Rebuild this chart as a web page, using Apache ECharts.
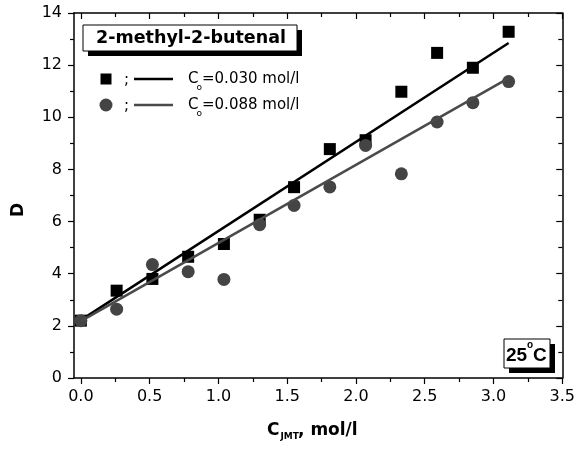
<!DOCTYPE html>
<html>
<head>
<meta charset="utf-8">
<script src="https://cdn.jsdelivr.net/npm/echarts@6/dist/echarts.min.js"></script>
<style>html,body{margin:0;padding:0;background:#fff}#c{width:578px;height:452px}</style>
</head>
<body>
<div id="c"></div>
<script>
// ---- data ----
const concX = [0, 0.26, 0.52, 0.78, 1.04, 1.30, 1.55, 1.81, 2.07, 2.33, 2.59, 2.85, 3.11];
const dLow  = [2.2, 3.35, 3.8, 4.65, 5.14, 6.07, 7.32, 8.78, 9.12, 10.98, 12.47, 11.9, 13.28];   // Co=0.030
const dHigh = [2.2, 2.64, 4.35, 4.08, 3.78, 5.88, 6.62, 7.33, 8.92, 7.83, 9.82, 10.56, 11.37]; // Co=0.088
const fitX = [0, 3.11];
const fitLow = [2.22, 12.85];
const fitHigh = [2.18, 11.5];
const xMajor = [0, 0.5, 1.0, 1.5, 2.0, 2.5, 3.0, 3.5];
const xMinor = [0.25, 0.75, 1.25, 1.75, 2.25, 2.75, 3.25];
const legendLabels = ['=0.030 mol/l', '=0.088 mol/l'];
const boxTitle = '2-methyl-2-butenal';

const zip = (xs, ys) => xs.map((x, i) => [x, ys[i]]);
const FONT = 'DejaVu Sans';

function xAx(pos, ticks, len, inside, labels, showLine) {
  return {
    type: 'value', position: pos, min: -0.05, max: 3.5,
    axisLine: {show: showLine, onZero: false, lineStyle: {color: '#000', width: 1.5}},
    axisTick: {show: true, inside: inside, length: len, customValues: ticks, lineStyle: {color: '#000', width: 1.2}},
    axisLabel: labels ? {show: true, customValues: ticks, margin: 11, color: '#000', fontFamily: FONT, fontSize: 16,
      formatter: v => v.toFixed(1)} : {show: false},
    splitLine: {show: false}
  };
}
function yAx(pos, inside, labels) {
  return {
    type: 'value', position: pos, min: 0, max: 14, interval: 2,
    axisLine: {show: true, onZero: false, lineStyle: {color: '#000', width: 1.5}},
    axisTick: {show: true, inside: inside, length: 6, lineStyle: {color: '#000', width: 1.2}},
    minorTick: {show: true, splitNumber: 2, length: 4, lineStyle: {color: '#000', width: 1.2}},
    axisLabel: labels ? {show: true, margin: 12, color: '#000', fontFamily: FONT, fontSize: 16} : {show: false},
    splitLine: {show: false}
  };
}

const chart = echarts.init(document.getElementById('c'), null, {renderer: 'canvas'});
const txt = (x, y, text, size, weight, align, extra) => Object.assign({
  type: 'text', x: x, y: y,
  style: {text: text, font: (weight || 'normal') + ' ' + size + 'px "' + FONT + '"', fill: '#000',
    align: align || 'left', verticalAlign: 'middle'}
}, extra || {});

chart.setOption({
  animation: false,
  backgroundColor: '#fff',
  grid: {left: 74, right: 14, top: 13, bottom: 74},
  xAxis: [
    xAx('bottom', xMajor, 6, false, true, true),
    xAx('bottom', xMinor, 4, false, false, false),
    xAx('top', xMajor, 6, true, false, true),
    xAx('top', xMinor, 4, true, false, false)
  ],
  yAxis: [yAx('left', false, true), yAx('right', true, false)],
  series: [
    {type: 'scatter', name: 'sq', data: zip(concX, dLow), symbol: 'rect', symbolSize: 12,
      itemStyle: {color: '#000', opacity: 1}, z: 2},
    {type: 'line', data: zip(fitX, fitLow), symbol: 'none', lineStyle: {color: '#000', width: 2.5}, z: 3},
    {type: 'scatter', name: 'ci', data: zip(concX, dHigh), symbol: 'circle', symbolSize: 13,
      itemStyle: {color: '#444', opacity: 1}, z: 4},
    {type: 'line', data: zip(fitX, fitHigh), symbol: 'none', lineStyle: {color: '#4a4a4a', width: 2.5}, z: 5}
  ],
  graphic: [
    // title box
    {type: 'rect', shape: {x: 88, y: 30, width: 214, height: 26}, style: {fill: '#000'}},
    {type: 'rect', shape: {x: 83, y: 25, width: 214, height: 26}, style: {fill: '#fff', stroke: '#000', lineWidth: 1}},
    txt(191, 38.5, boxTitle, 17.5, 'bold', 'center'),
    // legend row 1
    {type: 'rect', shape: {x: 100.5, y: 73.5, width: 11, height: 11}, style: {fill: '#000'}},
    txt(124, 80, ';', 15),
    {type: 'line', shape: {x1: 134, y1: 79, x2: 173, y2: 79}, style: {stroke: '#000', lineWidth: 2.5}},
    txt(188, 79, 'C', 15),
    txt(196.5, 87.5, 'o', 9),
    txt(202, 79, legendLabels[0], 15),
    // legend row 2
    {type: 'circle', shape: {cx: 106, cy: 105, r: 6.5}, style: {fill: '#444'}},
    txt(124, 106, ';', 15),
    {type: 'line', shape: {x1: 134, y1: 105, x2: 173, y2: 105}, style: {stroke: '#4a4a4a', lineWidth: 2.5}},
    txt(188, 105, 'C', 15),
    txt(196.5, 113.5, 'o', 9),
    txt(202, 105, legendLabels[1], 15),
    // 25°C box
    {type: 'rect', shape: {x: 509, y: 344, width: 46, height: 29}, style: {fill: '#000'}},
    {type: 'rect', shape: {x: 504, y: 339, width: 46, height: 29}, style: {fill: '#fff', stroke: '#000', lineWidth: 1}},
    {type: 'text', x: 506, y: 356, style: {text: '25', font: 'bold 19px "Liberation Sans"', fill: '#000', align: 'left', verticalAlign: 'middle'}},
    {type: 'text', x: 527, y: 345, style: {text: 'o', font: 'bold 10px "Liberation Sans"', fill: '#000', align: 'left', verticalAlign: 'middle'}},
    {type: 'text', x: 533, y: 356, style: {text: 'C', font: 'bold 19px "Liberation Sans"', fill: '#000', align: 'left', verticalAlign: 'middle'}},
    // axis titles
    txt(19, 210, 'D', 17, 'bold', 'center', {rotation: Math.PI / 2}),
    txt(267, 431, 'C', 17, 'bold', 'left'),
    txt(280.5, 437, 'JMT', 9, 'bold', 'left'),
    txt(298, 431, ', mol/l', 17, 'bold', 'left')
  ]
});
</script>
</body>
</html>
